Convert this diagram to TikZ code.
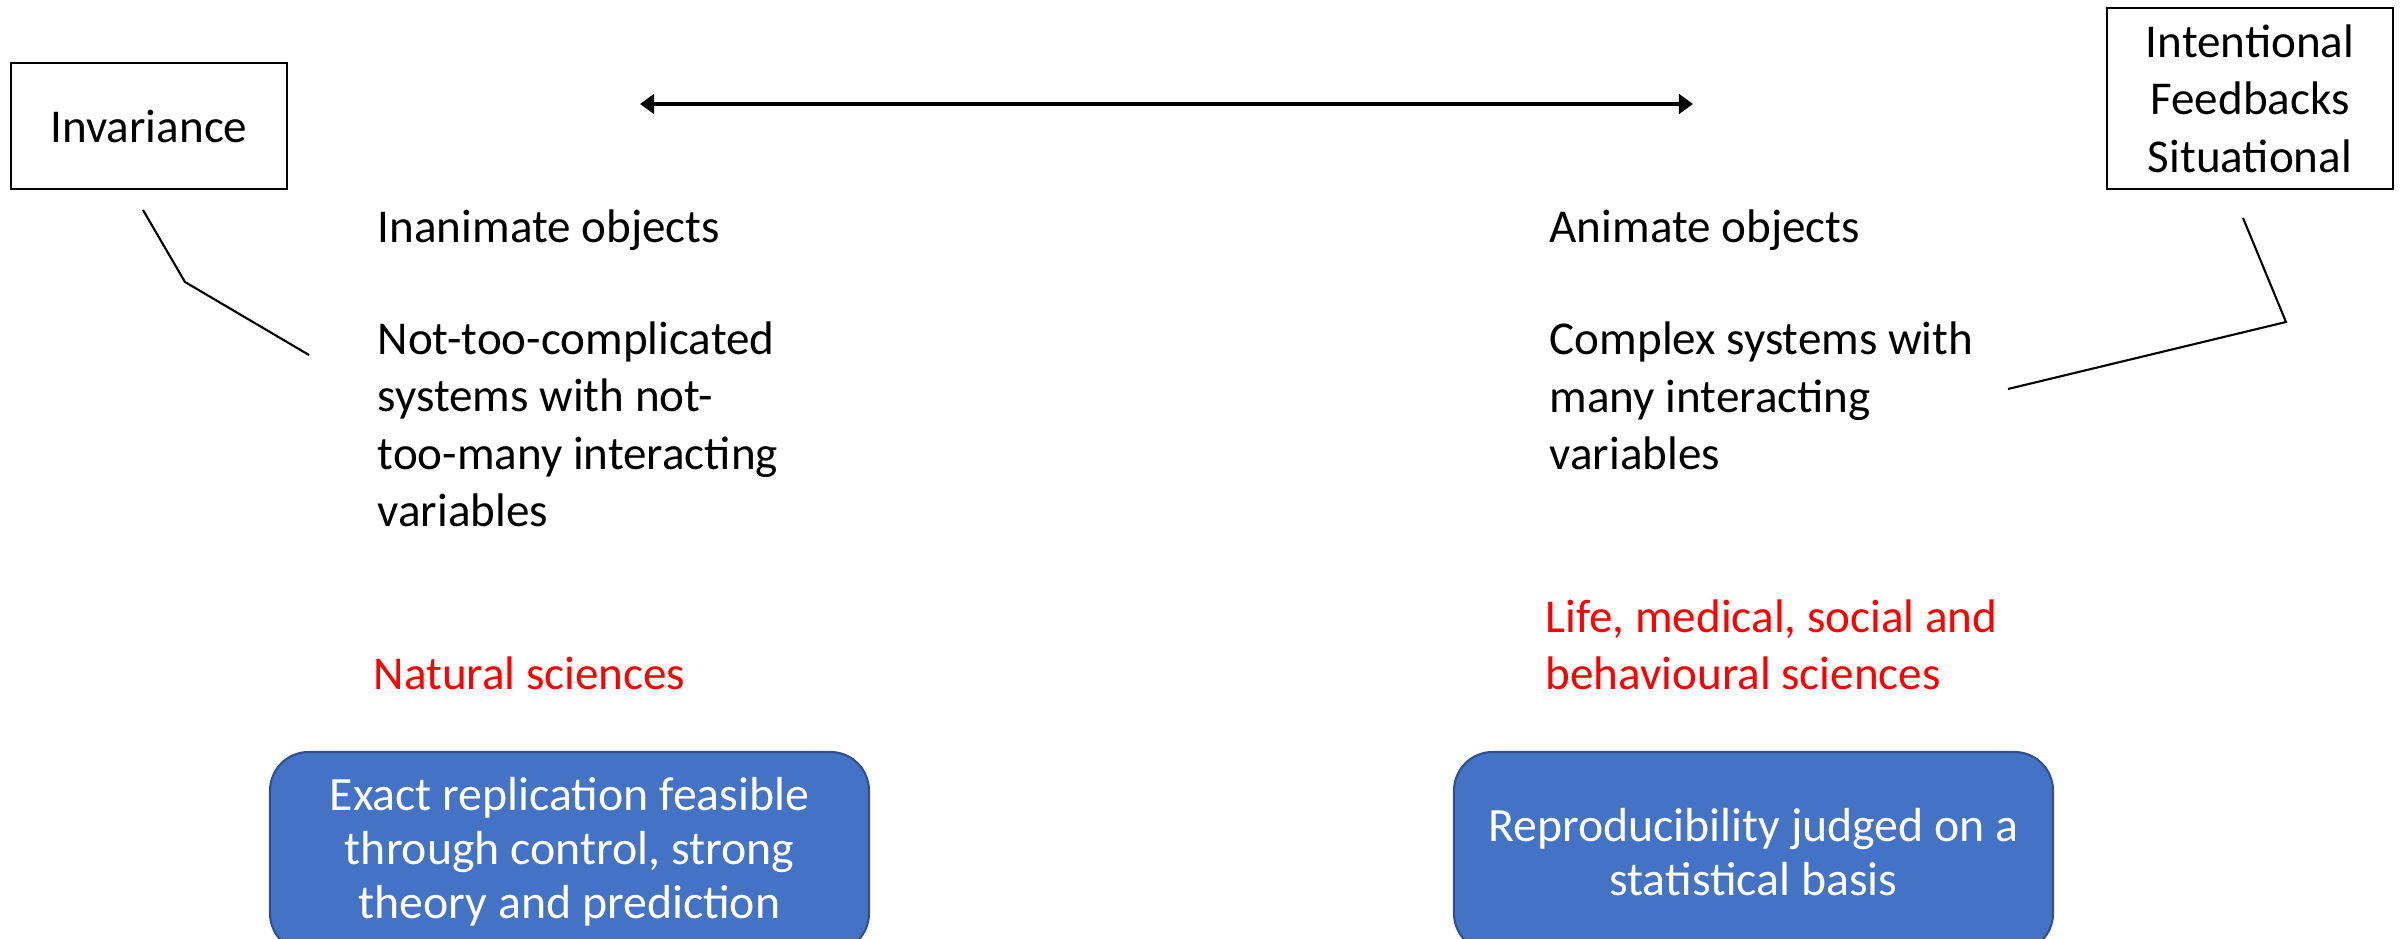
\documentclass[tikz,border=0pt]{standalone}
\usepackage{fontspec}
\setmainfont{Carlito}
\usetikzlibrary{arrows.meta}
\definecolor{boxblue}{HTML}{4472C4}
\definecolor{boxedge}{HTML}{2F528F}
\tikzset{
  label box/.style={draw, line width=0.6pt, align=center, inner sep=0pt},
  text block/.style={anchor=base west, align=left, inner sep=0pt},
  science/.style={text block, text=red},
  result/.style={draw=boxedge, fill=boxblue, text=white, rounded corners=11pt,
    line width=0.6pt, minimum width=5.99cm, minimum height=2cm, align=center,
    font=\fontsize{13.6}{15.4}\selectfont}
}
\begin{document}
\begin{tikzpicture}[every node/.style={font=\fontsize{13.4}{16.4}\selectfont}]
    \useasboundingbox (0,0) rectangle (24.02,9.38);
    \clip (0,0) rectangle (24.02,9.38);

    %boxes in the corners
    \node[label box, minimum width=2.76cm, minimum height=1.26cm] (inv) at (1.49,8.12) {Invariance};
    \node[label box, minimum width=2.86cm, minimum height=1.81cm] (feat) at (22.50,8.395) {Intentional\\Feedbacks\\Situational};

    %scale arrow
    \coordinate (inan end) at (6.40,8.34);
    \coordinate (anim end) at (16.93,8.34);
    \draw[line width=1.2pt, {Triangle[length=4pt,width=5.5pt]}-{Triangle[length=4pt,width=5.5pt]}] (inan end) -- (anim end);

    %left side (base = last line)
    \node[text block] (inan) at (3.77,6.95) {Inanimate objects};
    \node[text block] (inan sys) at (3.77,4.11) {Not-too-complicated\\systems with not-\\too-many interacting\\variables};
    \node[science] (nat) at (3.73,2.48) {Natural sciences};

    %right side
    \node[text block] (anim) at (15.49,6.95) {Animate objects};
    \node[text block] (anim sys) at (15.49,4.68) {Complex systems with\\many interacting\\variables};
    \node[science] (life) at (15.45,2.48) {Life, medical, social and\\behavioural sciences};

    %brackets
    \coordinate (inv top) at (1.43,7.28);
    \coordinate (inv bend) at (1.85,6.56);
    \coordinate (inv end) at (3.09,5.83);
    \draw[line width=0.6pt] (inv top) -- (inv bend) -- (inv end);
    \coordinate (feat top) at (22.43,7.20);
    \coordinate (feat bend) at (22.86,6.16);
    \coordinate (feat end) at (20.08,5.49);
    \draw[line width=0.6pt] (feat top) -- (feat bend) -- (feat end);

    %outcomes
    \node[result] (exact) at (5.695,0.86) {Exact replication feasible\\through control, strong\\theory and prediction};
    \node[result] (repro) at (17.535,0.86) {Reproducibility judged on a\\statistical basis};
\end{tikzpicture}
\end{document}
